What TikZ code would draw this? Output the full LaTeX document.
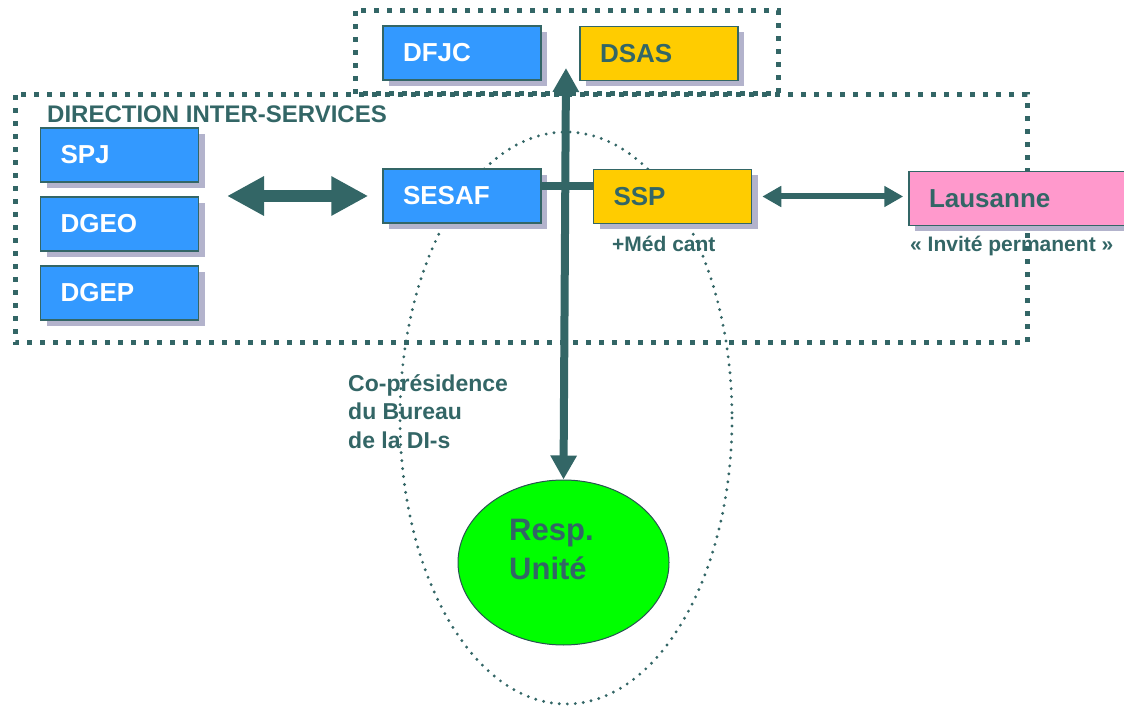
\documentclass[tikz,border=0pt]{standalone}
\usepackage{fontspec}
\setmainfont{Liberation Sans}
\usetikzlibrary{arrows.meta,shapes.geometric,shadows}
\definecolor{tealc}{HTML}{336666}
\definecolor{bluec}{HTML}{3399FF}
\definecolor{yellowc}{HTML}{FFCC00}
\definecolor{pinkc}{HTML}{FF99CC}
\definecolor{greenc}{HTML}{00FF00}
\definecolor{shadowc}{HTML}{B3B3CC}
\begin{document}
\begin{tikzpicture}[x=1pt,y=-1pt,
  box/.style={draw=tealc, line width=1.5pt, minimum height=54pt, inner sep=0pt,
    inner xsep=20pt, text width=118pt, align=left,
    font=\fontsize{26pt}{30pt}\selectfont\bfseries,
    general shadow={fill=shadowc, shadow xshift=6pt, shadow yshift=-6pt}},
  bluebox/.style={box, fill=bluec, text=white},
  yellowbox/.style={box, fill=yellowc, text=tealc},
  pinkbox/.style={box, fill=pinkc, text=tealc, text width=200pt},
  groupframe/.style={draw=tealc, line width=5pt, dash pattern=on 5pt off 8pt},
  bureau/.style={draw=tealc, line width=3.2pt, line cap=round, dash pattern=on 0pt off 8pt},
  lbl/.style={text=tealc, inner sep=0pt, font=\bfseries},
  bigarrow/.style={draw=tealc, line width=12pt,
    {Triangle[length=37pt,width=37pt]}-{Triangle[length=37pt,width=37pt]}},
  thinarrow/.style={draw=tealc, line width=6pt,
    {Triangle[length=19pt,width=20pt]}-{Triangle[length=19pt,width=20pt]}},
  vertarrow/.style={draw=tealc, line width=8pt,
    {Triangle[length=24pt,width=25pt]}-{Triangle[length=24pt,width=25pt]}},
  barline/.style={draw=tealc, line width=8pt}
]
\useasboundingbox (0,0) rectangle (1124,708);
\clip (0,0) rectangle (1124,708);

% dotted group frames
\draw[groupframe] (355,11) rectangle (778,94);
\draw[groupframe] (15,95) rectangle (1027,343);

% bureau dotted ellipse
\draw[bureau] (566,418) ellipse [x radius=166, y radius=286];

% boxes
\node[bluebox]   (dfjc)  at (462,53)    {DFJC};
\node[yellowbox] (dsas)  at (659,53.5)  {DSAS};
\node[bluebox]   (spj)   at (119.5,155) {SPJ};
\node[bluebox]   (dgeo)  at (119.5,224) {DGEO};
\node[bluebox]   (dgep)  at (119.5,293) {DGEP};
\node[bluebox]   (sesaf) at (462,196)   {SESAF};
\node[yellowbox] (ssp)   at (672.5,196.5) {SSP};
\node[pinkbox]   (laus)  at (1029,198.5) {Lausanne};

% green unit
\node[ellipse, draw=tealc!80!black, line width=1pt, fill=greenc,
      minimum width=211pt, minimum height=165pt, inner sep=0pt] (unit) at (563.5,562.5) {};

% labels
\node[lbl, anchor=base west, font=\fontsize{24pt}{28pt}\selectfont\bfseries] (dis) at (47,123) {DIRECTION INTER-SERVICES};
\node[lbl, anchor=base west, font=\fontsize{21pt}{25pt}\selectfont\bfseries] (med) at (612,252) {+Méd cant};
\node[lbl, anchor=base west, font=\fontsize{21pt}{25pt}\selectfont\bfseries] (inv) at (910,252) {« Invité permanent »};
\node[lbl, anchor=north west, align=left, font=\fontsize{23pt}{28.5pt}\selectfont\bfseries] (copres) at (348,374) {Co-présidence\\du Bureau\\de la DI-s};
\node[lbl, anchor=north west, align=left, font=\fontsize{31pt}{39pt}\selectfont\bfseries] (resp) at (509,519) {Resp.\\Unité};

% connectors
\coordinate (la) at (227,196);
\coordinate (vtop) at (566,68);
\draw[bigarrow, shorten >=14pt] (la) -- (la -| sesaf.west);
\draw[thinarrow, shorten <=10pt, shorten >=5pt] (ssp.east) -- (ssp.east -| laus.west);
\draw[barline] ([yshift=10pt]sesaf.east) -- ([yshift=10pt]sesaf.east -| ssp.west);
\draw[vertarrow] (vtop) -- (unit.north);
\end{tikzpicture}
\end{document}
